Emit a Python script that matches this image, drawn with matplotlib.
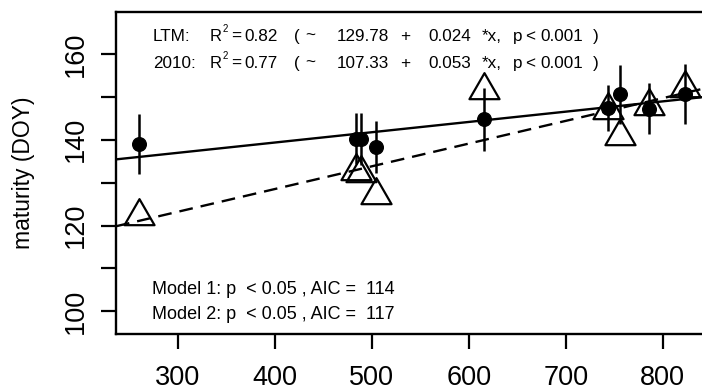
import matplotlib
matplotlib.use('Agg')
import matplotlib.pyplot as plt
import numpy as np
from matplotlib.path import Path

plt.rcParams['font.family'] = ['Liberation Sans', 'DejaVu Sans']

# site positions (x) and maturity day-of-year values
sites = [260, 484, 489, 504, 616, 744, 756, 786, 823]
ltm = [139.1, 140.3, 140.2, 138.3, 144.8, 147.5, 150.6, 147.3, 150.7]
ltm_err = [7.0, 6.0, 6.0, 6.0, 7.3, 5.4, 6.9, 5.9, 6.9]
y2010 = [122.3, 132.8, 132.3, 127.1, 151.7, 147.0, 140.9, 147.8, 152.2]

# regression fits (intercept, slope)
fit_ltm = (129.78, 0.024)
fit_2010 = (107.33, 0.053)

line1 = ['LTM:', 'R\u00b2', '=', '0.82', '(', '~', '129.78', '+', '0.024', '*x,',
         'p', '<', '0.001', ')']
line2 = ['2010:', 'R\u00b2', '=', '0.77', '(', '~', '107.33', '+', '0.053', '*x,',
         'p', '<', '0.001', ')']
model_txt = ['Model 1: p  < 0.05 , AIC =  114', 'Model 2: p  < 0.05 , AIC =  117']

# R style open triangle (pch = 2), centred on its centroid
tri = Path([(0, 1), (0.866, -0.5), (-0.866, -0.5), (0, 1)],
           [Path.MOVETO, Path.LINETO, Path.LINETO, Path.CLOSEPOLY])

fig = plt.figure(figsize=(7.02, 3.92), dpi=100)
ax = fig.add_axes([0.1652, 0.148, 0.852, 0.821])

xlim = (236, 853)
ax.set_xlim(xlim)
ax.set_ylim(94.7, 169.8)

xs = np.array(xlim)
ax.plot(xs, fit_ltm[0] + fit_ltm[1] * xs, color='black', lw=1.7, zorder=2)
ax.plot(xs, fit_2010[0] + fit_2010[1] * xs, color='black', lw=1.7,
        linestyle=(0, (5.8, 3.4)), zorder=2)

ax.errorbar(sites, ltm, yerr=ltm_err, fmt='o', color='black', ms=9.8,
            elinewidth=1.8, capsize=0, zorder=3)
ax.plot(sites, y2010, linestyle='none', marker=tri, ms=25, mfc='none',
        mec='black', mew=1.6, zorder=4)

for sp in ax.spines.values():
    sp.set_linewidth(1.7)

ax.set_xticks([300, 400, 500, 600, 700, 800])
ax.set_yticks(range(100, 161, 10))
ax.set_yticklabels([str(v) if v % 20 == 0 else '' for v in range(100, 161, 10)])
ax.tick_params(axis='both', direction='out', length=10.5, width=1.6,
               labelsize=19.5)
ax.tick_params(axis='x', pad=12)
ax.tick_params(axis='y', pad=9)
for lab in ax.get_yticklabels():
    lab.set_rotation(90)
    lab.set_va('center')

ax.set_ylabel('maturity (DOY)', fontsize=16.5)
ax.yaxis.set_label_coords(-0.135, 0.5)

# fit annotations, placed piece by piece like R's plotmath spacing
tr = ax.transAxes
ax_w = 0.852 * 702
fs = 12.3
piece_px = [153, 210, 231, 244, 294, 305, 337, 400, 428, 482, 513, 525, 540, 593]
for row, y in ((line1, 0.925), (line2, 0.840)):
    for txt, xp in zip(row, piece_px):
        if txt == 'R\u00b2':
            ax.text((xp - 116) / ax_w, y, 'R', transform=tr, fontsize=12,
                    va='center', ha='left')
            ax.text((xp - 116 + 12.5) / ax_w, y + 0.024, '2', transform=tr,
                    fontsize=7, va='center', ha='left')
            continue
        ax.text((xp - 116) / ax_w, y, txt, transform=tr, fontsize=fs,
                va='center', ha='left')

ax.text((152 - 116) / ax_w, 0.137, model_txt[0], transform=tr, fontsize=13,
        va='center', ha='left')
ax.text((152 - 116) / ax_w, 0.059, model_txt[1], transform=tr, fontsize=13,
        va='center', ha='left')

fig.savefig('out.png', dpi=100)
